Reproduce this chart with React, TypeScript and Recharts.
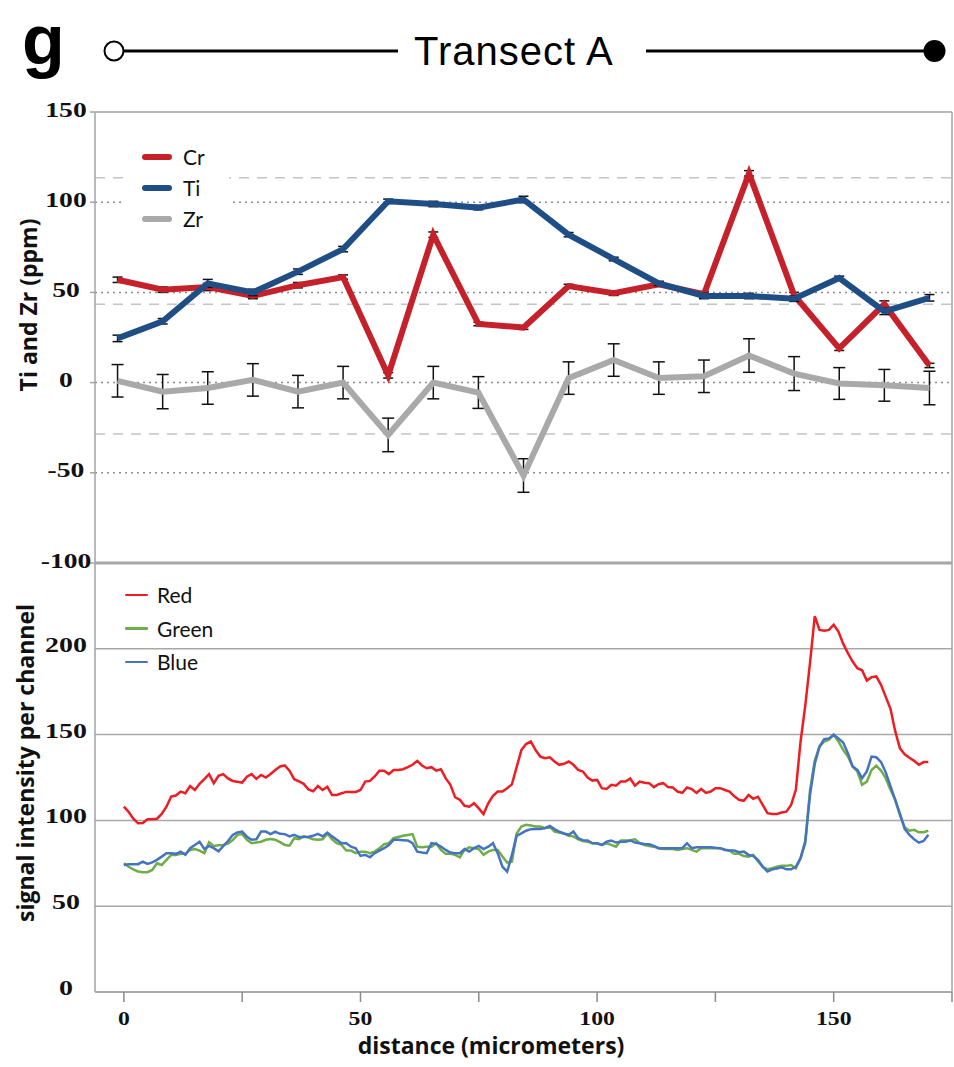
import React from 'react';
import { LineChart, Line, XAxis, YAxis, CartesianGrid, ReferenceLine, ErrorBar, Legend } from 'recharts';

// spot-analysis along the transect (ppm, 1 sd)
const spots = [1, 2, 3, 4, 5, 6, 7, 8, 9, 10, 11, 12, 13, 14, 15, 16, 17, 18, 19];
const crPpm = [57, 51.5, 53, 48, 54, 58.5, 4, 82, 32.5, 30.5, 53.5, 49.5, 54.5, 49, 116, 48.5, 19, 43.5, 9.5];
const crErr = [1.5, 1.5, 2, 1.5, 1.5, 1.2, 1.5, 1.5, 1, 1, 1, 1.2, 1.2, 1.5, 1.5, 1.5, 1.2, 1.8, 1.2];
const tiPpm = [24.5, 34, 55, 50, 61.5, 74, 100.5, 99, 97, 101.5, 82, 68.5, 55, 48, 48, 46.5, 58, 39.5, 47];
const tiErr = [1.8, 1.5, 2.2, 1.8, 1.5, 1.5, 1.2, 1.5, 1.2, 1.8, 1.2, 1, 1.2, 1.5, 1.5, 1.5, 1, 1.8, 1.8];
const zrPpm = [1, -5, -3, 1.5, -5, 0, -29, 0, -5.5, -51.5, 2.5, 12.5, 2.5, 3.5, 15, 5, -0.5, -1.5, -3];
const zrErr = [9, 9.5, 9, 9, 9, 9, 9.3, 9, 8.8, 9.3, 9, 9, 9, 9, 9.3, 9.4, 8.8, 8.8, 9.3];

const ppmTicks = [-100, -50, 0, 50, 100, 150];
const ppmDotted = [100, 50, 0, -50];
const ppmDashed = [113.5, 43.5, -28.5];
const elementOrder = ['Cr', 'Ti', 'Zr'];

// RGB profile along the same transect
const distanceUm = [
  0, 1, 2, 3, 4, 5, 6, 7, 8, 9, 10, 11, 12, 13, 14, 15, 16, 17, 18, 19,
  20, 21, 22, 23, 24, 25, 26, 27, 28, 29, 30, 31, 32, 33, 34, 35, 36, 37, 38, 39,
  40, 41, 42, 43, 44, 45, 46, 47, 48, 49, 50, 51, 52, 53, 54, 55, 56, 57, 58, 59,
  60, 61, 62, 63, 64, 65, 66, 67, 68, 69, 70, 71, 72, 73, 74, 75, 76, 77, 78, 79,
  80, 81, 82, 83, 84, 85, 86, 87, 88, 89, 90, 91, 92, 93, 94, 95, 96, 97, 98, 99,
  100, 101, 102, 103, 104, 105, 106, 107, 108, 109, 110, 111, 112, 113, 114, 115, 116, 117, 118, 119,
  120, 121, 122, 123, 124, 125, 126, 127, 128, 129, 130, 131, 132, 133, 134, 135, 136, 137, 138, 139,
  140, 141, 142, 143, 144, 145, 146, 147, 148, 149, 150, 151, 152, 153, 154, 155, 156, 157, 158, 159,
  160, 161, 162, 163, 164, 165, 166, 167, 168, 169, 170,
];
const redSignal = [
  108, 105, 101, 98.3, 98.5, 100.7, 100.7, 101, 103.8, 108,
  113.9, 114.5, 116.8, 115.8, 120, 117.7, 121.3, 124, 126.9, 121.7,
  126, 127, 124.5, 123, 122.5, 122, 125.5, 127, 124.2, 126.5,
  125, 127, 129.4, 131.4, 132, 129, 124, 122.7, 121.3, 118,
  117, 120, 117.7, 119.6, 114.8, 114.8, 115.8, 116.6, 116.6, 116.6,
  117.7, 122.6, 123, 125.6, 129, 129, 127, 129.4, 129.4, 129.8,
  131, 132.4, 134.7, 132, 130.4, 131, 129, 129.8, 124.6, 120.7,
  113.5, 112, 108.5, 108, 110, 107, 103.7, 110, 114.3, 116.8,
  116.8, 118.8, 121, 131, 141, 144.5, 146, 141, 137.2, 136.3,
  136.8, 134.3, 132.4, 133, 134.3, 132.4, 129.4, 128.5, 125, 123.2,
  123.6, 118.8, 118.3, 120.7, 120.2, 122.6, 122.6, 124.4, 120.2, 122.6,
  122, 121.7, 119.4, 121.1, 121.7, 119.4, 119.2, 116.8, 116, 119.2,
  118.3, 116, 118.3, 116, 116.8, 118.8, 118.8, 117.7, 116.8, 114,
  112, 111.4, 114.8, 112.6, 113.8, 109, 104.2, 103.8, 103.8, 104.6,
  105.1, 109, 117.8, 146, 167, 192, 219, 211, 210.5, 211,
  214, 210, 203, 197.5, 192.6, 188.7, 187.5, 181.5, 183.5, 183.9,
  179, 172, 165, 152, 142, 138.5, 136.5, 134.7, 132.4, 134,
  134,
];
const greenSignal = [
  75, 73, 71.5, 70.2, 69.8, 69.8, 71.1, 75, 74, 77,
  79.9, 79.9, 80.5, 80.5, 82.8, 83.3, 82.4, 80.9, 87.3, 85.1,
  85.5, 85.7, 86.5, 88.5, 91.6, 92, 88.7, 86.7, 87.1, 87.6,
  88.7, 89.2, 88.7, 87.3, 85.7, 85.3, 89.6, 89, 90.7, 90,
  89, 88.7, 89, 92.2, 89, 86.7, 85.7, 82.4, 82.4, 80.9,
  81.8, 81.8, 80.9, 81.8, 83.8, 86.1, 86.7, 89.6, 90.3, 91,
  91.5, 92, 84.7, 84.3, 84.7, 84.7, 86.7, 82.8, 80.5, 80.5,
  79.9, 78.5, 82.8, 84.3, 83.8, 83.3, 79.9, 81.8, 82.8, 82.8,
  79, 75.4, 76, 92.4, 96.4, 97.5, 97, 96.4, 96.4, 95.5,
  96.4, 93.5, 92.9, 92.4, 91, 90.7, 89, 88, 87.6, 86.7,
  86.7, 85.7, 86.7, 85.7, 84.7, 88.3, 88.3, 88.5, 89, 86.7,
  85.7, 85.1, 84.7, 83.8, 83.3, 83.3, 83.3, 82.8, 83.3, 83.8,
  82.8, 81.8, 83.8, 83.8, 83.8, 83.8, 83.8, 83, 82.4, 80.5,
  80.5, 79.3, 78.9, 79.9, 76, 73, 71.5, 72.1, 73, 73.5,
  73.5, 74, 72.1, 78, 86.7, 117.8, 135, 143, 146, 147,
  149.9, 146, 141.1, 137.2, 131.4, 128.5, 120.7, 122.6, 129.4, 131.8,
  129, 124.6, 117.8, 112, 103, 96, 94, 94.5, 93.1, 93.1,
  94,
];
const blueSignal = [
  74, 74.5, 74.5, 74.5, 76, 74.6, 75.5, 77, 78.9, 80.9,
  80.9, 80.5, 81.8, 79.9, 83.8, 85.7, 87.6, 83.3, 85.1, 83.8,
  82, 85, 88, 91.5, 93, 93.5, 90.5, 88.7, 89, 93.5,
  93.5, 92, 93.5, 92.2, 92, 90.7, 91.6, 90.3, 90.3, 90.5,
  91, 92.2, 90.7, 92.9, 90.7, 88.7, 86.7, 86.7, 84.7, 83.8,
  79.3, 79.9, 78.5, 80.9, 82.4, 83.8, 85.7, 88.7, 88.7, 88.5,
  88.3, 86.7, 81.8, 81.3, 80.9, 86.7, 86.3, 84.7, 82.8, 81.3,
  80.9, 80.9, 83.3, 81.8, 83.8, 85.1, 83.3, 84.7, 86.7, 80.9,
  73, 70.2, 79.9, 91, 92.4, 94, 94.9, 95, 95, 95.5,
  96.8, 94.9, 93.5, 92.4, 91.6, 93.5, 89.6, 88.5, 88.3, 86.7,
  86.7, 85.7, 87.6, 88.3, 87.1, 87.6, 87.6, 88.3, 87.1, 86.7,
  86.3, 86.1, 85.1, 83.8, 83.8, 83.8, 83.8, 83.8, 83.8, 86.7,
  83.8, 84.3, 84.3, 84.3, 84.3, 84, 83.8, 82.8, 82.4, 82.4,
  81.5, 81.8, 79.9, 79.3, 77, 73, 70.2, 71.5, 72, 72.7,
  71.5, 71.5, 73, 78, 88, 115, 133, 143, 147.3, 147.8,
  149.9, 147.8, 145.4, 139.2, 131.4, 129.4, 124.6, 128.5, 137.2, 136.8,
  134, 128, 120, 112, 104, 95, 91.6, 89, 87, 88,
  91.6,
];

const signalTicks = [0, 50, 100, 150, 200];
const distanceTicks = [0, 25, 50, 75, 100, 125, 150, 175];
const channelOrder = ['Red', 'Green', 'Blue'];

const ppmRows = spots.map((spot, i) => ({
  spot,
  cr: crPpm[i],
  crErr: crErr[i],
  ti: tiPpm[i],
  tiErr: tiErr[i],
  zr: zrPpm[i],
  zrErr: zrErr[i],
}));

const channelRows = distanceUm.map((d, i) => ({
  d,
  red: redSignal[i],
  green: greenSignal[i],
  blue: blueSignal[i],
}));

const FRAME = '#a3a3a3';
const TICK_FONT = '"Liberation Serif", "Times New Roman", serif';
const TITLE_FONT = '"Open Sans", "DejaVu Sans", sans-serif';
const LEGEND_FONT = 'Lato, "Open Sans", sans-serif';

// wide bold serif numbers on the value axes
const ValueTick = (props: any) => {
  const { y, payload, size, stretch } = props;
  return (
    <g transform={`translate(66, ${y})`}>
      <text transform={`scale(${stretch}, 1)`} textAnchor="middle" dy={props.lift} fontFamily={TICK_FONT} fontWeight="bold" fontSize={size} fill="#111">
        {payload.value}
      </text>
    </g>
  );
};

const DistanceTick = (props: any) => {
  const { x, y, payload } = props;
  if (payload.value % 50 !== 0) return null;
  return (
    <g transform={`translate(${x}, ${y})`}>
      <text transform="scale(1.32, 1)" textAnchor="middle" dy={19} fontFamily={TICK_FONT} fontWeight="bold" fontSize={18} fill="#111">
        {payload.value}
      </text>
    </g>
  );
};

const AxisTitle = (props: any) => {
  const { posX, posY, text, vertical } = props;
  return (
    <text
      x={posX}
      y={posY}
      transform={vertical ? `rotate(-90 ${posX} ${posY})` : undefined}
      textAnchor="middle"
      fontFamily={TITLE_FONT}
      fontWeight="bold"
      fontSize={23}
      fill="#111"
    >
      {text}
    </text>
  );
};

const SeriesKey = (props: any) => {
  const { payload = [], order, swatch, thickness, rowHeight, gap, fill } = props;
  const items = order
    .map((name: string) => payload.find((p: any) => p.value === name))
    .filter(Boolean);
  return (
    <div style={{ background: fill, paddingLeft: 17 }}>
      {items.map((item: any) => (
        <div key={item.value} style={{ display: 'flex', alignItems: 'center', height: rowHeight }}>
          <span
            style={{
              display: 'inline-block',
              width: swatch,
              height: thickness,
              borderRadius: thickness / 2,
              background: item.color,
              marginRight: gap,
            }}
          />
          <span style={{ fontFamily: LEGEND_FONT, fontSize: 21, color: '#111' }}>{item.value}</span>
        </div>
      ))}
    </div>
  );
};

const TransectHeader = () => (
  <svg width={954} height={100} style={{ position: 'absolute', left: 0, top: 0 }}>
    <text x={22} y={63.5} fontFamily='"Liberation Sans", Arial, sans-serif' fontWeight="bold" fontSize={70} fill="#000">
      g
    </text>
    <circle cx={114} cy={51} r={9.5} fill="#fff" stroke="#000" strokeWidth={2} />
    <line x1={123.5} y1={51} x2={398} y2={51} stroke="#000" strokeWidth={3} />
    <text x={414} y={65} fontFamily='"Liberation Sans", Arial, sans-serif' fontSize={40} letterSpacing={1} fill="#000">
      Transect A
    </text>
    <line x1={646} y1={51} x2={928} y2={51} stroke="#000" strokeWidth={3} />
    <circle cx={934.5} cy={51} r={11} fill="#000" />
  </svg>
);

export default function App() {
  return (
    <div style={{ position: 'absolute', left: 0, top: 0, width: 954, height: 1067, background: '#fff', overflow: 'hidden' }}>
      <div style={{ position: 'absolute', left: 0, top: 0 }}>
        <LineChart width={954} height={575} data={ppmRows} margin={{ top: 112, right: 2, bottom: 12, left: 0 }}>
          <XAxis dataKey="spot" type="number" domain={[0.5, 19.5]} hide />
          <YAxis
            type="number"
            domain={[-100, 150]}
            ticks={ppmTicks}
            width={95}
            interval={0}
            stroke={FRAME}
            strokeWidth={1.5}
            tickSize={5}
            tickLine={{ stroke: FRAME }}
            tick={<ValueTick size={20} stretch={1.38} lift={4.5} />}
            label={<AxisTitle posX={36.5} posY={305} text="Ti and Zr (ppm)" vertical />}
          />
          {ppmDotted.map((v) => (
            <ReferenceLine key={`dot-${v}`} y={v} stroke="#8c8c8c" strokeWidth={1.5} strokeDasharray="2 4" />
          ))}
          {ppmDashed.map((v) => (
            <ReferenceLine key={`dash-${v}`} y={v} stroke="#c4c4c4" strokeWidth={1.5} strokeDasharray="10 8" />
          ))}
          <ReferenceLine y={150} stroke={FRAME} strokeWidth={1.5} />
          <ReferenceLine x={19.5} stroke={FRAME} strokeWidth={1.5} />
          <ReferenceLine y={-100} stroke={FRAME} strokeWidth={3} />
          <Legend
            layout="vertical"
            align="center"
            verticalAlign="middle"
            wrapperStyle={{ left: 125, top: 141, width: 104 }}
            content={<SeriesKey order={elementOrder} swatch={30} thickness={6} rowHeight={31} gap={11} fill="#fff" />}
          />
          <Line name="Zr" dataKey="zr" stroke="#a9a9a9" strokeWidth={6} dot={false} activeDot={false} isAnimationActive={false}>
            <ErrorBar dataKey="zrErr" width={6} strokeWidth={1.5} stroke="#111" direction="y" />
          </Line>
          <Line name="Cr" dataKey="cr" stroke="#c4212b" strokeWidth={6} dot={false} activeDot={false} isAnimationActive={false}>
            <ErrorBar dataKey="crErr" width={5} strokeWidth={1.5} stroke="#111" direction="y" />
          </Line>
          <Line name="Ti" dataKey="ti" stroke="#1f4e86" strokeWidth={6} dot={false} activeDot={false} isAnimationActive={false}>
            <ErrorBar dataKey="tiErr" width={5} strokeWidth={1.5} stroke="#111" direction="y" />
          </Line>
        </LineChart>
      </div>

      <div style={{ position: 'absolute', left: 0, top: 553 }}>
        <LineChart width={954} height={514} data={channelRows} margin={{ top: 10, right: 2, bottom: 0, left: 0 }}>
          <CartesianGrid vertical={false} stroke="#a8a8a8" strokeWidth={1.5} />
          <XAxis
            dataKey="d"
            type="number"
            domain={[-6.1, 175]}
            ticks={distanceTicks}
            interval={0}
            height={75}
            stroke={FRAME}
            strokeWidth={1.5}
            tickSize={10}
            tickMargin={4}
            tickLine={{ stroke: '#8a8a8a', strokeWidth: 1.5 }}
            tick={<DistanceTick />}
            label={<AxisTitle posX={491} posY={501} text="distance (micrometers)" />}
          />
          <YAxis
            type="number"
            domain={[0, 250]}
            ticks={signalTicks}
            width={95}
            interval={0}
            stroke={FRAME}
            strokeWidth={1.5}
            tickLine={false}
            tick={<ValueTick size={22} stretch={1.27} lift={3} />}
            label={<AxisTitle posX={34} posY={210} text="signal intensity per channel" vertical />}
          />
          <ReferenceLine x={175} stroke={FRAME} strokeWidth={1.5} />
          <Legend
            layout="vertical"
            align="center"
            verticalAlign="middle"
            wrapperStyle={{ left: 108, top: 25, width: 130 }}
            content={<SeriesKey order={channelOrder} swatch={23} thickness={2.5} rowHeight={33.5} gap={9} fill="transparent" />}
          />
          <Line name="Red" dataKey="red" type="linear" stroke="#ee1d24" strokeWidth={2.5} dot={false} activeDot={false} isAnimationActive={false} />
          <Line name="Green" dataKey="green" type="linear" stroke="#6fad46" strokeWidth={2.5} dot={false} activeDot={false} isAnimationActive={false} />
          <Line name="Blue" dataKey="blue" type="linear" stroke="#4573c4" strokeWidth={2.5} dot={false} activeDot={false} isAnimationActive={false} />
        </LineChart>
      </div>

      <TransectHeader />
    </div>
  );
}
